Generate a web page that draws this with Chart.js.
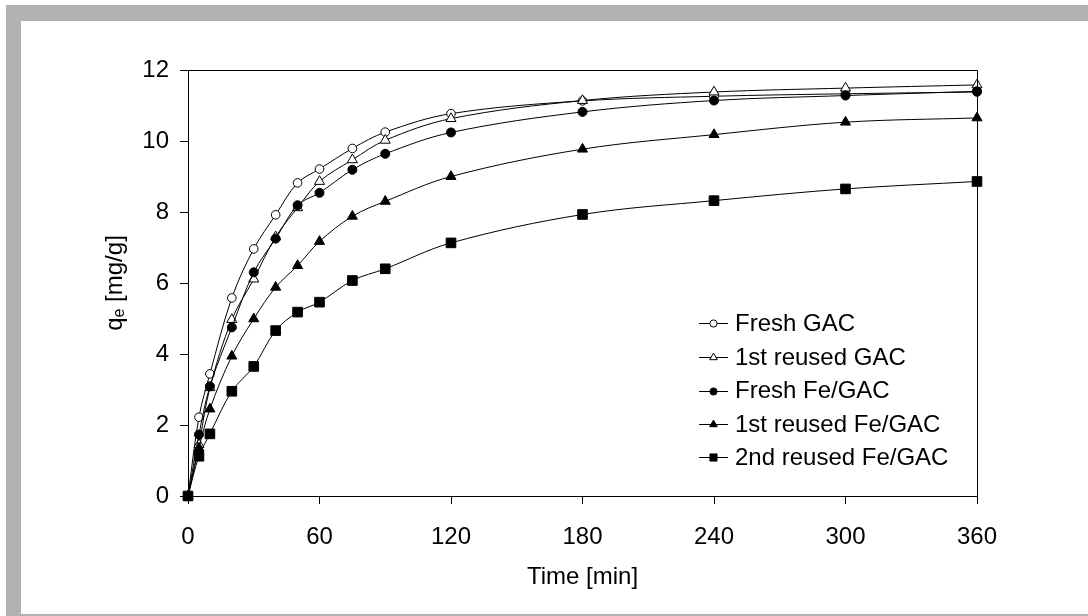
<!DOCTYPE html>
<html>
<head>
<meta charset="utf-8">
<script src="https://cdn.jsdelivr.net/npm/chart.js@4.4.1/dist/chart.umd.min.js"></script>
<style>
html,body{margin:0;padding:0;background:#fff;}
canvas{display:block;}
</style>
</head>
<body>
<canvas id="c" width="1088" height="616"></canvas>
<script>
// ---- data ----
const times        = [0, 5, 10, 20, 30, 40, 50, 60, 75, 90, 120, 180, 240, 300, 360];
const freshGAC     = [0, 2.22, 3.44, 5.58, 6.96, 7.92, 8.82, 9.21, 9.79, 10.25, 10.77, 11.13, 11.26, 11.33, 11.38];
const reused1GAC   = [0, 1.45, 3.05, 4.97, 6.11, 7.30, 8.12, 8.86, 9.47, 10.02, 10.63, 11.14, 11.38, 11.49, 11.58];
const freshFeGAC   = [0, 1.73, 3.09, 4.75, 6.30, 7.25, 8.19, 8.54, 9.19, 9.64, 10.24, 10.82, 11.14, 11.28, 11.40];
const reused1FeGAC = [0, 1.35, 2.45, 3.94, 4.99, 5.88, 6.49, 7.17, 7.88, 8.30, 9.00, 9.77, 10.18, 10.53, 10.65];
const reused2FeGAC = [0, 1.12, 1.75, 2.95, 3.65, 4.66, 5.18, 5.46, 6.07, 6.40, 7.13, 7.93, 8.32, 8.65, 8.86];
const seriesLabels = ['Fresh GAC', '1st reused GAC', 'Fresh Fe/GAC', '1st reused Fe/GAC', '2nd reused Fe/GAC'];
const xTicks = [0, 60, 120, 180, 240, 300, 360];
const yTicks = [0, 2, 4, 6, 8, 10, 12];
const xTitle = 'Time [min]';
const yTitleMain = 'q', yTitleSub = 'e', yTitleRest = ' [mg/g]';

const FONT = '"Liberation Sans", Arial, sans-serif';
const toXY = arr => times.map((t, i) => ({x: t, y: arr[i]}));

const styles = [
  {pointStyle: 'circle',   radius: 4.3, fill: '#ffffff', lr: 3.6},
  {pointStyle: 'triangle', radius: 5.8, fill: '#ffffff', lr: 4.4},
  {pointStyle: 'circle',   radius: 4.5, fill: '#000000', lr: 3.6},
  {pointStyle: 'triangle', radius: 5.8, fill: '#000000', lr: 4.4},
  {pointStyle: 'rect',     radius: 6.8, fill: '#000000', lr: 5.0}
];
const allSeries = [freshGAC, reused1GAC, freshFeGAC, reused1FeGAC, reused2FeGAC];

const datasets = allSeries.map((arr, i) => ({
  label: seriesLabels[i],
  data: toXY(arr),
  borderColor: '#000',
  borderWidth: 1,
  backgroundColor: styles[i].fill,
  pointStyle: styles[i].pointStyle,
  pointRadius: styles[i].radius,
  pointHoverRadius: styles[i].radius,
  pointBackgroundColor: styles[i].fill,
  pointBorderColor: '#000',
  pointBorderWidth: 1,
  tension: 0.35,
  fill: false,
  clip: false,
  order: 5 - i
}));

const framePlugin = {
  id: 'frame',
  beforeDraw(chart) {
    const ctx = chart.ctx;
    ctx.save();
    ctx.fillStyle = '#ffffff';
    ctx.fillRect(0, 0, chart.width, chart.height);
    ctx.fillStyle = '#b2b2b2';
    ctx.fillRect(6, 5, chart.width - 6, 16);
    ctx.fillRect(6, 5, 15, chart.height - 5);
    ctx.fillRect(6, 614, chart.width - 6, 2);
    ctx.restore();
  },
  afterDatasetsDraw(chart) {
    const ctx = chart.ctx, a = chart.chartArea;
    ctx.save();
    ctx.strokeStyle = '#000';
    ctx.lineWidth = 1;
    ctx.beginPath();
    ctx.moveTo(Math.round(a.left) + 0.5, Math.round(a.top) + 0.5);
    ctx.lineTo(Math.round(a.right) + 0.5, Math.round(a.top) + 0.5);
    ctx.lineTo(Math.round(a.right) + 0.5, Math.round(a.bottom) + 0.5);
    ctx.stroke();
    ctx.restore();
  },
  afterDraw(chart) {
    const ctx = chart.ctx, a = chart.chartArea;
    // y-axis title with subscript
    ctx.save();
    ctx.fillStyle = '#000';
    ctx.textBaseline = 'middle';
    ctx.textAlign = 'left';
    const big = '24px ' + FONT, small = '16px ' + FONT;
    ctx.font = big;
    const wq = ctx.measureText(yTitleMain).width;
    const wr = ctx.measureText(yTitleRest).width;
    ctx.font = small;
    const we = ctx.measureText(yTitleSub).width;
    const total = wq + we + wr;
    ctx.translate(115, (a.top + a.bottom) / 2);
    ctx.rotate(-Math.PI / 2);
    let x0 = -total / 2;
    ctx.font = big;
    ctx.fillText(yTitleMain, x0, 0);
    ctx.font = small;
    ctx.fillText(yTitleSub, x0 + wq, 5);
    ctx.font = big;
    ctx.fillText(yTitleRest, x0 + wq + we, 0);
    ctx.restore();

    // legend inside plot
    ctx.save();
    const legY = [323, 357, 390.5, 424, 457];
    chart.data.datasets.forEach((ds, i) => {
      const y = legY[i];
      ctx.strokeStyle = '#000';
      ctx.lineWidth = 1;
      ctx.beginPath();
      ctx.moveTo(699, Math.round(y) + 0.5);
      ctx.lineTo(728, Math.round(y) + 0.5);
      ctx.stroke();
      ctx.fillStyle = styles[i].fill;
      ctx.strokeStyle = '#000';
      Chart.helpers.drawPoint(ctx, {pointStyle: styles[i].pointStyle, radius: styles[i].lr, rotation: 0, borderWidth: 1}, 713.5, Math.round(y) + 0.5);
      ctx.fillStyle = '#000';
      ctx.font = '24px ' + FONT;
      ctx.textBaseline = 'middle';
      ctx.textAlign = 'left';
      ctx.fillText(ds.label, 735, y + 1);
    });
    ctx.restore();
  }
};

new Chart(document.getElementById('c'), {
  type: 'line',
  data: {datasets},
  plugins: [framePlugin],
  options: {
    responsive: false,
    animation: false,
    devicePixelRatio: 1,
    layout: {padding: {left: 0, top: 70, right: 111, bottom: 0}},
    plugins: {legend: {display: false}, tooltip: {enabled: false}},
    scales: {
      x: {
        type: 'linear',
        min: 0, max: 360,
        afterBuildTicks: s => { s.ticks = xTicks.map(v => ({value: v})); },
        afterFit: s => { s.height = 120; },
        grid: {drawOnChartArea: false, drawTicks: true, tickLength: 8, color: '#000', tickColor: '#000'},
        border: {display: true, color: '#000', width: 1},
        ticks: {color: '#000', font: {family: FONT, size: 24}, padding: 19, maxRotation: 0, autoSkip: false},
        title: {display: true, text: xTitle, color: '#000', font: {family: FONT, size: 24}, padding: {top: 0, bottom: 24}}
      },
      y: {
        type: 'linear',
        min: 0, max: 12,
        afterBuildTicks: s => { s.ticks = yTicks.map(v => ({value: v})); },
        afterFit: s => { s.width = 188; },
        grid: {drawOnChartArea: false, drawTicks: true, tickLength: 8, color: '#000', tickColor: '#000'},
        border: {display: true, color: '#000', width: 1},
        ticks: {color: '#000', font: {family: FONT, size: 24}, padding: 11, autoSkip: false}
      }
    }
  }
});
</script>
</body>
</html>
